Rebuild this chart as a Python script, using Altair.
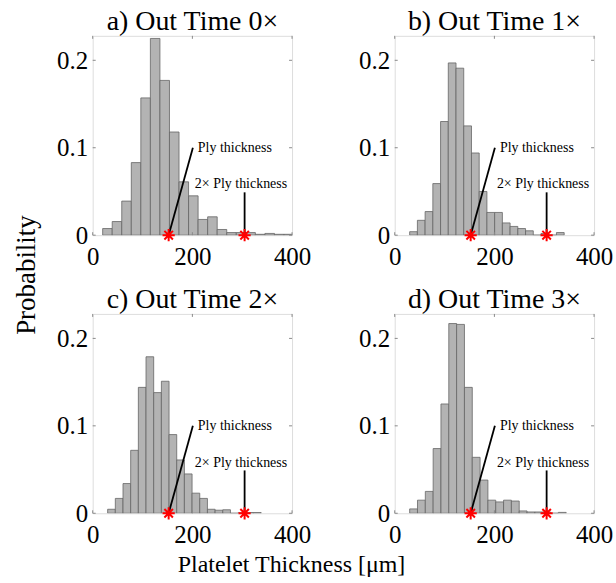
import altair as alt
import pandas as pd

FONT = "Liberation Serif"

panel_titles = ["a) Out Time 0×", "b) Out Time 1×", "c) Out Time 2×", "d) Out Time 3×"]
bin_start = [20, 30, 30, 30]
bin_width = [19.15, 15.5, 15.4, 15.7]
prob_a = [0.0076, 0.0156, 0.039, 0.083, 0.157, 0.225, 0.177, 0.118, 0.061, 0.045,
          0.018, 0.021, 0.0065, 0.003, 0.003, 0.003, 0.001, 0.002, 0.001, 0.001]
prob_b = [0.004, 0.017, 0.027, 0.059, 0.13, 0.197, 0.191, 0.125, 0.094, 0.05,
          0.026, 0.026, 0.014, 0.01, 0.0076, 0.005, 0.0, 0.002, 0.0, 0.003]
prob_c = [0.0046, 0.017, 0.034, 0.072, 0.144, 0.179, 0.138, 0.151, 0.09, 0.061,
          0.045, 0.023, 0.017, 0.0046, 0.0035, 0.004, 0.0, 0.0005, 0.0008, 0.0008]
prob_d = [0.005, 0.015, 0.025, 0.074, 0.125, 0.217, 0.216, 0.144, 0.064, 0.038,
          0.015, 0.013, 0.015, 0.014, 0.0027, 0.0015, 0.0015, 0.0015, 0.0, 0.001]
probs = [prob_a, prob_b, prob_c, prob_d]

ply = 152.4
ply2 = 304.8
ply_line_end = [201, 0.1]
ply2_line_top = 0.049
ply_label = "Ply thickness"
ply_label_pos = [211, 0.1]
ply2_label = "2× Ply thickness"
ply2_label_pos = [205, 0.058]

x_ticks = [0, 200, 400]
y_ticks = [0, 0.1, 0.2]
x_domain = [0, 400]
y_domain = [0, 0.228]
y_title = "Probability"
x_title = "Platelet Thickness [μm]"

ASTERISK = "M-1,0L1,0M0,-1L0,1M-0.7,-0.7L0.7,0.7M-0.7,0.7L0.7,-0.7"

xs = alt.Scale(domain=x_domain, nice=False, zero=False)
ys = alt.Scale(domain=y_domain, nice=False)


def panel(i):
    p = probs[i]
    df = pd.DataFrame({
        "x0": [bin_start[i] + k * bin_width[i] for k in range(len(p))],
        "x1": [bin_start[i] + (k + 1) * bin_width[i] for k in range(len(p))],
        "p": p,
    })
    xkw = dict(values=x_ticks, domain=False, ticks=False, grid=False,
               labelFont=FONT, labelFontSize=25, labelColor="black", labelPadding=9,
               labelFlush=False)
    if i == 2:
        xaxis = alt.Axis(title=x_title, titleFont=FONT, titleFontSize=24, titleFontWeight="normal",
                         titleColor="black", titleX=199, titleY=58, titleAlign="center",
                         titleBaseline="alphabetic", **xkw)
    else:
        xaxis = alt.Axis(title=None, **xkw)
    ykw = dict(values=y_ticks, domain=False, ticks=False, grid=False,
               labelFont=FONT, labelFontSize=25, labelColor="black", labelPadding=5,
               labelExpr="datum.value == 0 ? '0' : format(datum.value, '.1f')")
    if i == 0:
        yaxis = alt.Axis(title=y_title, titleFont=FONT, titleFontSize=27, titleFontWeight="normal",
                         titleColor="black", titleAngle=270, titleX=-66, titleY=239.5,
                         titleAlign="center", titleBaseline="middle", **ykw)
    else:
        yaxis = alt.Axis(title=None, **ykw)
    bars = alt.Chart(df).mark_rect(fill="#b3b3b3", stroke="#666666", strokeWidth=0.8, clip=True).encode(
        x=alt.X("x0:Q", scale=xs, axis=xaxis),
        x2="x1:Q",
        y=alt.Y("p:Q", scale=ys, axis=yaxis),
        y2=alt.datum(0),
    )
    lines_df = pd.DataFrame({
        "x": [ply, ply2], "y": [0, 0],
        "x2": [ply_line_end[0], ply2], "y2": [ply_line_end[1], ply2_line_top],
    })
    lines = alt.Chart(lines_df).mark_rule(color="black", strokeWidth=1.8).encode(
        x=alt.X("x:Q", scale=xs), y=alt.Y("y:Q", scale=ys), x2="x2:Q", y2="y2:Q"
    )
    text_df = pd.DataFrame({
        "x": [ply_label_pos[0], ply2_label_pos[0]],
        "y": [ply_label_pos[1], ply2_label_pos[1]],
        "t": [ply_label, ply2_label],
    })
    texts = alt.Chart(text_df).mark_text(align="left", baseline="middle", font=FONT,
                                         fontSize=14, color="black").encode(
        x=alt.X("x:Q", scale=xs), y=alt.Y("y:Q", scale=ys), text="t:N"
    )
    star_df = pd.DataFrame({"x": [ply, ply2], "y": [0, 0]})
    stars = alt.Chart(star_df).mark_point(shape=ASTERISK, size=150, filled=False, color="red",
                                          strokeWidth=2, opacity=1).encode(
        x=alt.X("x:Q", scale=xs), y=alt.Y("y:Q", scale=ys)
    )
    xt = pd.DataFrame({"v": x_ticks})
    yt = pd.DataFrame({"v": y_ticks})
    tick_col = "#8a8a8a"
    xt_bot = alt.Chart(xt).mark_rule(color=tick_col, strokeWidth=1).encode(
        x=alt.X("v:Q", scale=xs), y=alt.value(200), y2=alt.value(197))
    xt_top = alt.Chart(xt).mark_rule(color=tick_col, strokeWidth=1).encode(
        x=alt.X("v:Q", scale=xs), y=alt.value(0), y2=alt.value(3))
    yt_l = alt.Chart(yt).mark_rule(color=tick_col, strokeWidth=1).encode(
        y=alt.Y("v:Q", scale=ys), x=alt.value(0), x2=alt.value(3))
    yt_r = alt.Chart(yt).mark_rule(color=tick_col, strokeWidth=1).encode(
        y=alt.Y("v:Q", scale=ys), x=alt.value(197), x2=alt.value(200))
    return alt.layer(bars, xt_bot, xt_top, yt_l, yt_r, lines, texts, stars).properties(
        width=200, height=200,
        title=alt.TitleParams(panel_titles[i], font=FONT, fontSize=28, fontWeight="normal",
                              color="black", offset=-1),
    )


chart = alt.concat(panel(0), panel(1), panel(2), panel(3), columns=2,
                   spacing={"row": 79, "column": 103}, bounds="flush").properties(
    padding={"left": 12, "top": 7, "right": 2, "bottom": 2}
).configure_view(stroke="#aaaaaa", strokeWidth=1).configure(background="white")

chart.save("out.html", embed_options={"renderer": "svg", "actions": False})
